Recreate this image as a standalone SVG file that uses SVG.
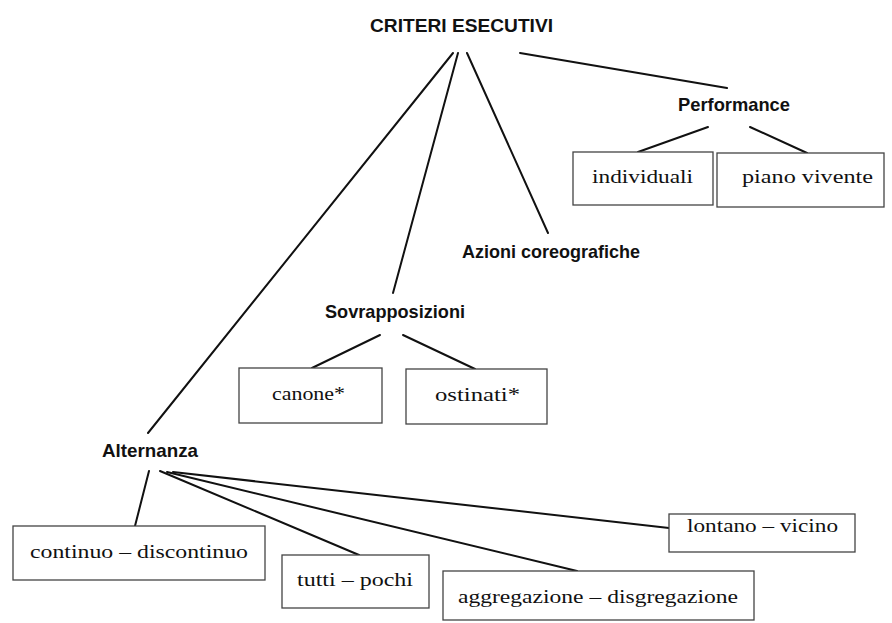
<svg xmlns="http://www.w3.org/2000/svg" width="892" height="623" viewBox="0 0 892 623">
  <style>
    .head { font-family: "Liberation Sans", "DejaVu Sans", sans-serif; font-weight: bold; font-size: 19px; fill: #111; }
    .lbl { font-family: "Liberation Serif", "DejaVu Serif", serif; font-size: 19px; fill: #111; }
    .box { fill: #fff; stroke: #444; stroke-width: 1.3; }
    .edge { stroke: #111; stroke-width: 2; fill: none; stroke-linecap: round; }
  </style>
  <rect width="892" height="623" fill="#fff"/>

  <g id="connectors">
    <!-- root branches -->
    <line class="edge" x1="453" y1="53" x2="148" y2="433"/>
    <line class="edge" x1="458" y1="53" x2="393" y2="293"/>
    <line class="edge" x1="467" y1="53" x2="548" y2="233"/>
    <line class="edge" x1="520" y1="53" x2="727" y2="88"/>
    <!-- Performance -->
    <line class="edge" x1="708" y1="127" x2="638" y2="152"/>
    <line class="edge" x1="750" y1="127" x2="807" y2="153"/>
    <!-- Sovrapposizioni -->
    <line class="edge" x1="380" y1="335" x2="312" y2="368"/>
    <line class="edge" x1="403" y1="335" x2="475" y2="369"/>
    <!-- Alternanza -->
    <line class="edge" x1="149" y1="471" x2="135" y2="526"/>
    <line class="edge" x1="160" y1="471" x2="359" y2="555"/>
    <line class="edge" x1="167" y1="472" x2="577" y2="571"/>
    <line class="edge" x1="173" y1="472" x2="669" y2="528"/>
  </g>

  <g id="root">
    <text class="head" x="461.5" y="32" text-anchor="middle" font-size="22" textLength="183" lengthAdjust="spacingAndGlyphs">CRITERI ESECUTIVI</text>
  </g>

  <g id="performance">
    <text class="head" x="734" y="111" text-anchor="middle" textLength="112" lengthAdjust="spacingAndGlyphs">Performance</text>
  </g>
  <g id="individuali">
    <rect class="box" x="573" y="152" width="140" height="53"/>
    <text class="lbl" x="642.5" y="183" text-anchor="middle" textLength="101" lengthAdjust="spacingAndGlyphs">individuali</text>
  </g>
  <g id="piano-vivente">
    <rect class="box" x="717" y="153" width="167" height="54"/>
    <text class="lbl" x="807.5" y="183" text-anchor="middle" textLength="131" lengthAdjust="spacingAndGlyphs">piano vivente</text>
  </g>

  <g id="azioni">
    <text class="head" x="551" y="258" text-anchor="middle" textLength="178" lengthAdjust="spacingAndGlyphs">Azioni coreografiche</text>
  </g>

  <g id="sovrapposizioni">
    <text class="head" x="395" y="318" text-anchor="middle" textLength="140" lengthAdjust="spacingAndGlyphs">Sovrapposizioni</text>
  </g>
  <g id="canone">
    <rect class="box" x="239" y="368" width="143" height="55"/>
    <text class="lbl" x="308.5" y="400" text-anchor="middle" textLength="73" lengthAdjust="spacingAndGlyphs">canone*</text>
  </g>
  <g id="ostinati">
    <rect class="box" x="406" y="369" width="141" height="55"/>
    <text class="lbl" x="477.5" y="401" text-anchor="middle" textLength="85" lengthAdjust="spacingAndGlyphs">ostinati*</text>
  </g>

  <g id="alternanza">
    <text class="head" x="150" y="457" text-anchor="middle" textLength="96" lengthAdjust="spacingAndGlyphs">Alternanza</text>
  </g>
  <g id="continuo">
    <rect class="box" x="13" y="526" width="252" height="54"/>
    <text class="lbl" x="139" y="558" text-anchor="middle" textLength="218" lengthAdjust="spacingAndGlyphs">continuo – discontinuo</text>
  </g>
  <g id="tutti">
    <rect class="box" x="282" y="555" width="147" height="53"/>
    <text class="lbl" x="355" y="586" text-anchor="middle" textLength="116" lengthAdjust="spacingAndGlyphs">tutti – pochi</text>
  </g>
  <g id="aggregazione">
    <rect class="box" x="443" y="571" width="311" height="49"/>
    <text class="lbl" x="598" y="603" text-anchor="middle" textLength="280" lengthAdjust="spacingAndGlyphs">aggregazione – disgregazione</text>
  </g>
  <g id="lontano">
    <rect class="box" x="669" y="514" width="186" height="38"/>
    <text class="lbl" x="762.5" y="532" text-anchor="middle" textLength="151" lengthAdjust="spacingAndGlyphs">lontano – vicino</text>
  </g>
</svg>
